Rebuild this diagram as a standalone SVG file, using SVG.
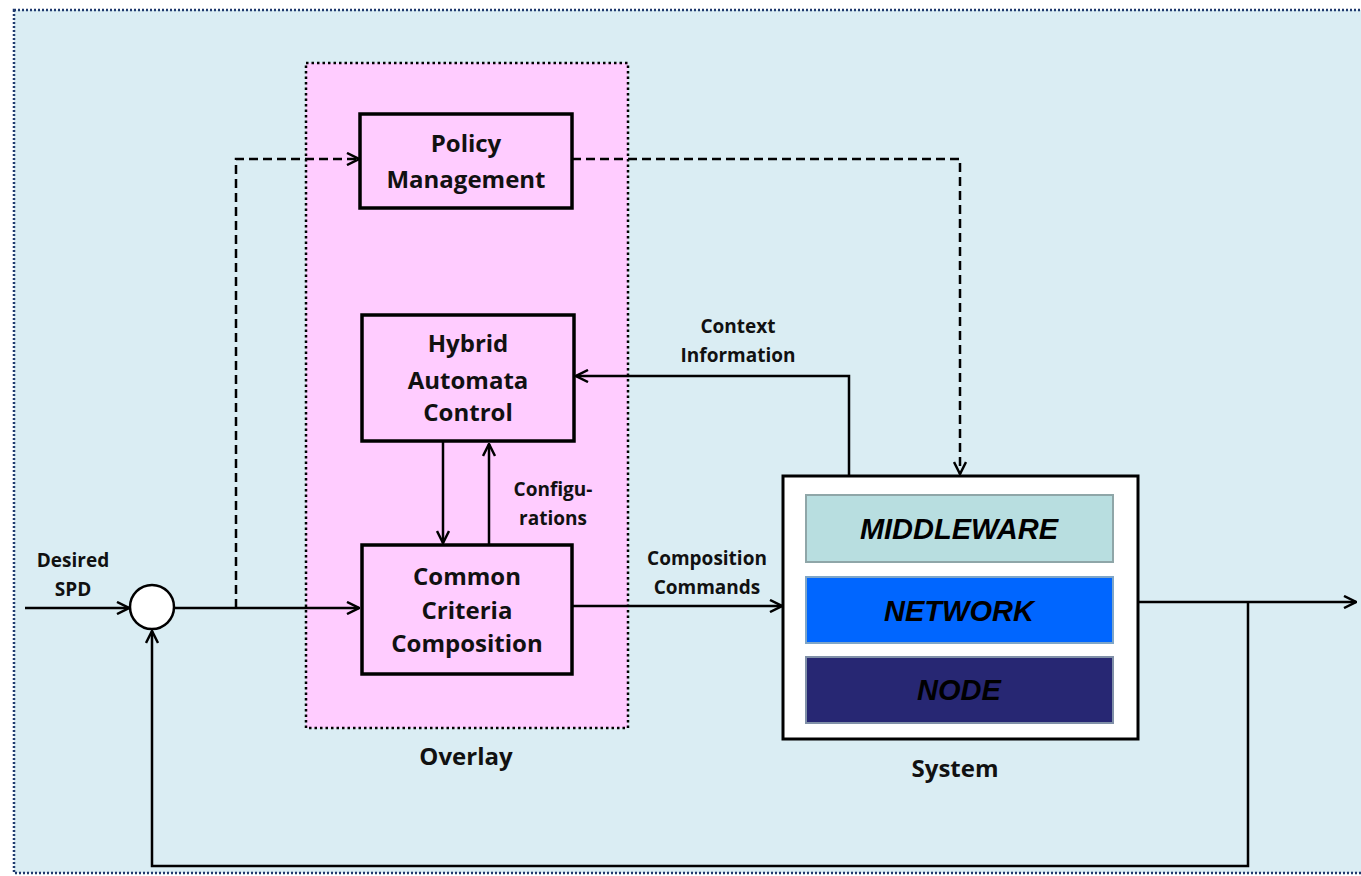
<svg xmlns="http://www.w3.org/2000/svg" width="1361" height="876" viewBox="0 0 1361 876">
<style>
.t{font-family:"Open Sans",Lato,sans-serif;font-weight:bold;fill:#111;text-anchor:middle}
.b{font-size:24px}
.s{font-size:19px}
.box{fill:#FFCCFF;stroke:#000;stroke-width:3.5}
.ln{fill:none;stroke:#000;stroke-width:2.5}
.ds{fill:none;stroke:#000;stroke-width:2.5;stroke-dasharray:9 5}
.lay{font-family:"Liberation Sans",Arial,sans-serif;font-weight:bold;font-style:italic;font-size:29px;fill:#000;text-anchor:middle}
</style>
<defs>
<marker id="ah" viewBox="0 0 14 14" refX="13" refY="7" markerWidth="14" markerHeight="14" markerUnits="userSpaceOnUse" orient="auto">
<path d="M1,1 L13,7 L1,13" fill="none" stroke="#000" stroke-width="2.5"/>
</marker>
</defs>
<rect x="0" y="0" width="1361" height="876" fill="#fff"/>
<rect id="frame" x="14" y="10" width="1360" height="863" fill="#DAEDF3" stroke="#1F3A6E" stroke-width="2.5" stroke-dasharray="2 2"/>
<g id="overlay">
<rect x="306" y="63" width="322" height="665" fill="#FFCCFF" stroke="#000" stroke-width="2.5" stroke-dasharray="2.5 3"/>
<text class="t b" x="466" y="765">Overlay</text>
</g>
<g id="connectors">
<line class="ln" x1="25" y1="608" x2="129" y2="608" marker-end="url(#ah)"/>
<line class="ln" x1="175" y1="608" x2="359" y2="608" marker-end="url(#ah)"/>
<polyline class="ds" points="236,608 236,159 359,159" marker-end="url(#ah)"/>
<polyline class="ds" points="572,159 960,159 960,474" marker-end="url(#ah)"/>
<polyline class="ln" points="849,475 849,376 576,376" marker-end="url(#ah)"/>
<line class="ln" x1="443" y1="442" x2="443" y2="543" marker-end="url(#ah)"/>
<line class="ln" x1="489" y1="545" x2="489" y2="444" marker-end="url(#ah)"/>
<line class="ln" x1="572" y1="606" x2="782" y2="606" marker-end="url(#ah)"/>
<line class="ln" x1="1138" y1="602" x2="1356" y2="602" marker-end="url(#ah)"/>
<polyline class="ln" points="1248,602 1248,866 152,866 152,631" marker-end="url(#ah)"/>
</g>
<g id="sum">
<circle cx="152" cy="607" r="22" fill="#fff" stroke="#000" stroke-width="2.5"/>
</g>
<g id="policy">
<rect class="box" x="360" y="114" width="212" height="94"/>
<text class="t b" x="466" y="152">Policy</text>
<text class="t b" x="466" y="188">Management</text>
</g>
<g id="hybrid">
<rect class="box" x="362" y="315" width="212" height="126"/>
<text class="t b" x="468" y="352">Hybrid</text>
<text class="t b" x="468" y="389">Automata</text>
<text class="t b" x="468" y="421">Control</text>
</g>
<g id="ccc">
<rect class="box" x="362" y="545" width="210" height="129"/>
<text class="t b" x="467" y="585">Common</text>
<text class="t b" x="467" y="619">Criteria</text>
<text class="t b" x="467" y="652">Composition</text>
</g>
<g id="system">
<rect x="783" y="476" width="355" height="263" fill="#fff" stroke="#000" stroke-width="3"/>
<rect x="806" y="495" width="307" height="67" fill="#B8DEE0" stroke="#8FA6A8" stroke-width="2"/>
<rect x="806" y="577" width="307" height="66" fill="#0066FF" stroke="#7FA6C8" stroke-width="2"/>
<rect x="806" y="657" width="307" height="66" fill="#272773" stroke="#8090A8" stroke-width="2"/>
<text class="lay" x="959" y="539">MIDDLEWARE</text>
<text class="lay" x="959" y="621">NETWORK</text>
<text class="lay" x="959" y="700">NODE</text>
<text class="t b" x="955" y="777">System</text>
</g>
<g id="labels">
<text class="t s" x="73" y="567">Desired</text>
<text class="t s" x="73" y="596">SPD</text>
<text class="t s" x="738" y="333">Context</text>
<text class="t s" x="738" y="362">Information</text>
<text class="t s" x="553" y="496">Configu-</text>
<text class="t s" x="553" y="525">rations</text>
<text class="t s" x="707" y="565">Composition</text>
<text class="t s" x="707" y="594">Commands</text>
</g>
</svg>
